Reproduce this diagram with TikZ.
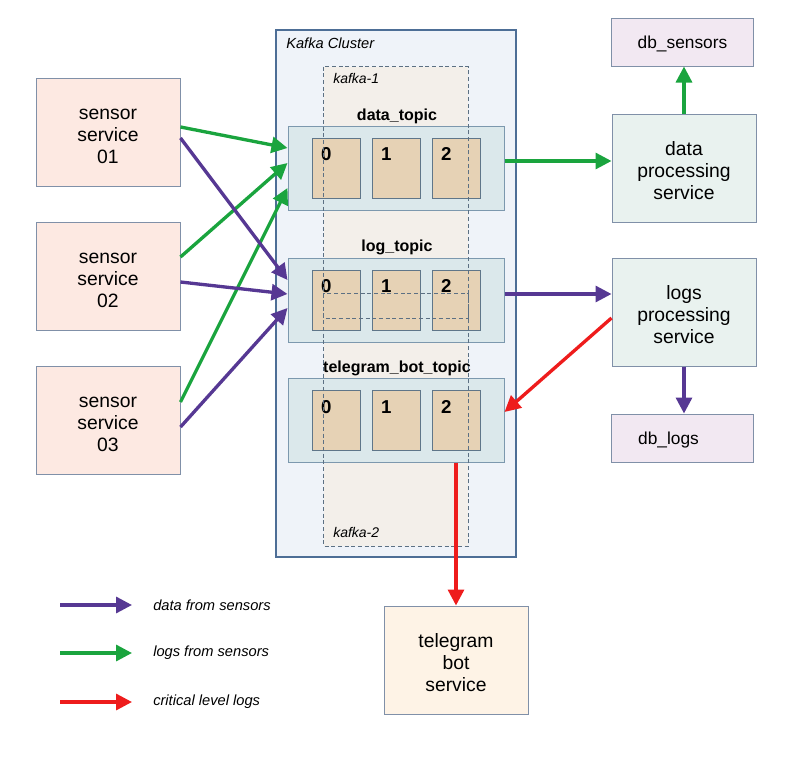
\documentclass[tikz,border=0pt]{standalone}
\usepackage{fontspec}
\setmainfont{Liberation Sans}
\usetikzlibrary{arrows.meta,positioning}

\definecolor{clusterfill}{HTML}{EFF3F9}
\definecolor{clusterline}{HTML}{4D6E96}
\definecolor{brokerfill}{HTML}{F3EFEA}
\definecolor{brokerline}{HTML}{5C7083}
\definecolor{topicfill}{HTML}{DBE8EB}
\definecolor{topicline}{HTML}{7C98AE}
\definecolor{partfill}{HTML}{E6D2B5}
\definecolor{partline}{HTML}{5F7689}
\definecolor{sensorfill}{HTML}{FDE9E2}
\definecolor{procfill}{HTML}{E9F2EF}
\definecolor{dbfill}{HTML}{F2E8F2}
\definecolor{botfill}{HTML}{FEF3E6}
\definecolor{boxline}{HTML}{8090A8}
\definecolor{flowpurple}{HTML}{563893}
\definecolor{flowgreen}{HTML}{1AA43E}
\definecolor{flowred}{HTML}{EE1C1C}

% lowers the text of a box a little
\newcommand{\toppad}{\rule{0pt}{15pt}}
\newcommand{\dbpad}{\rule{0pt}{12.5pt}}

\begin{document}
\begin{tikzpicture}
[
	               x = 0.75pt,
	               y = -0.75pt,
	              >= {Triangle[length=12pt,width=12pt]},
	  service/.style = { draw=boxline, line width=0.75pt, minimum width=108pt, minimum height=81pt,
	                     align=center, font=\fontsize{14.5}{16.5}\selectfont },
	   sensor/.style = { service, fill=sensorfill },
	     proc/.style = { service, fill=procfill },
	      bot/.style = { service, fill=botfill },
	       db/.style = { draw=boxline, line width=0.75pt, fill=dbfill, minimum width=107pt,
	                     minimum height=36pt, font=\fontsize{13}{15}\selectfont },
	  cluster/.style = { draw=clusterline, line width=1.5pt, fill=clusterfill,
	                     minimum width=180pt, minimum height=395pt },
	   broker/.style = { fill=brokerfill, minimum width=108pt, minimum height=189pt },
	brokerline/.style = { draw=brokerline, line width=0.6pt, dash pattern=on 3pt off 2pt },
	    topic/.style = { draw=topicline, line width=0.75pt, fill=topicfill,
	                     minimum width=162pt, minimum height=63pt },
	     part/.style = { draw=partline, line width=0.75pt, fill=partfill,
	                     minimum width=36pt, minimum height=45pt, inner sep=0pt },
	    digit/.style = { anchor=north west, inner sep=0pt, xshift=7pt, yshift=-7.5pt,
	                     font=\bfseries\fontsize{14}{16}\selectfont },
	toplabel/.style = { font=\bfseries\fontsize{12}{14}\selectfont, inner sep=0pt },
	  caption/.style = { anchor=west, inner sep=0pt, font=\itshape\fontsize{10.5}{12}\selectfont },
	legendtext/.style = { anchor=west, inner sep=0pt, font=\itshape\fontsize{11}{13}\selectfont },
	     flow/.style = { line width=2.5pt, -> },
	 dataflow/.style = { flow, draw=flowpurple },
	  logflow/.style = { flow, draw=flowgreen },
	 critflow/.style = { flow, draw=flowred }
]
	\useasboundingbox (0,0) rectangle (794,760);

	% kafka cluster and brokers
	\node (kc) at (396,293.5) [cluster] {};
	\node (kct) at (286,43) [caption, font=\itshape\fontsize{11}{13}\selectfont] {Kafka Cluster};
	\node (k1) at (396,192.5) [broker, minimum height=188.25pt] {};
	\node (k2) at (396,420)   [broker] {};

	% topics
	\node (dt)  at (396,168) [topic] {};
	\node (dtl) at (397,116) [toplabel] {data\_topic};
	\node (lt)  at (396,300) [topic] {};
	\node (ltl) at (397,247) [toplabel] {log\_topic};
	\node (tt)  at (396,420) [topic] {};
	\node (ttl) at (397,368) [toplabel] {telegram\_bot\_topic};

	% partitions
	\node (dt0) at (336,168) [part] {};
	\node (dt1) at (396,168) [part] {};
	\node (dt2) at (456,168) [part] {};
	\node at (dt0.north west) [digit] {0};
	\node at (dt1.north west) [digit] {1};
	\node at (dt2.north west) [digit] {2};

	\node (lt0) at (336,300) [part] {};
	\node (lt1) at (396,300) [part] {};
	\node (lt2) at (456,300) [part] {};
	\node at (lt0.north west) [digit] {0};
	\node at (lt1.north west) [digit] {1};
	\node at (lt2.north west) [digit] {2};

	\node (tt0) at (336,420.5) [part] {};
	\node (tt1) at (396,420.5) [part] {};
	\node (tt2) at (456,420.5) [part] {};
	\node at (tt0.north west) [digit] {0};
	\node at (tt1.north west) [digit] {1};
	\node at (tt2.north west) [digit] {2};

	\draw [brokerline] (k1.north west) rectangle (k1.south east);
	\draw [brokerline] (k2.north west) rectangle (k2.south east);
	\node (k1t) at (333,78)  [caption] {kafka-1};
	\node (k2t) at (333,532) [caption] {kafka-2};

	% services
	\node (s1) at (108,132) [sensor] {\toppad sensor\\service\\01};
	\node (s2) at (108,276) [sensor] {\toppad sensor\\service\\02};
	\node (s3) at (108,420) [sensor] {\toppad sensor\\service\\03};

	\node (dbs) at (682.5,42)  [db] {\dbpad db\_sensors};
	\node (dp)  at (684,168)   [proc] {\toppad data\\processing\\service};
	\node (lp)  at (684,312)   [proc] {\toppad logs\\processing\\service};
	\node (dbl) at (682.5,438) [db] {\dbpad db\_logs\hspace*{21pt}};
	\node (tb)  at (456,660)   [bot] {\toppad telegram\\bot\\service};

	% sensors to topics
	\draw [logflow]  ([yshift=3.75pt]s1.east)  -- ([yshift=15pt]dt.west);
	\draw [logflow]  ([yshift=14.25pt]s2.east) -- ([yshift=3.75pt]dt.west);
	\draw [logflow]  ([yshift=13.5pt]s3.east)  -- ([yshift=-15pt]dt.west);
	\draw [dataflow] ([yshift=-4.5pt]s1.east)  -- ([yshift=15pt]lt.west);
	\draw [dataflow] ([yshift=-4.5pt]s2.east)  -- ([yshift=4.5pt]lt.west);
	\draw [dataflow] ([yshift=-5.25pt]s3.east) -- ([yshift=-6pt]lt.west);

	% topics to consumers
	\draw [logflow]  ([yshift=5.25pt]dt.east) -- ([yshift=5.25pt]dp.west);
	\draw [logflow]  (dp.north) -- (dp.north |- dbs.south);
	\draw [dataflow] ([yshift=4.5pt]lt.east) -- ([yshift=13.5pt]lp.west);
	\draw [dataflow] (lp.south) -- (lp.south |- dbl.north);
	\draw [critflow] ([yshift=-4.5pt]lp.west) -- ([yshift=6pt]tt.east);
	\draw [critflow] ([xshift=45pt]tt.south) -- (tb.north);

	% legend
	\coordinate (la1) at (60,605);  \coordinate (lb1) at (132,605);
	\coordinate (la2) at (60,653);  \coordinate (lb2) at (132,653);
	\coordinate (la3) at (60,702);  \coordinate (lb3) at (132,702);
	\draw [dataflow] (la1) -- (lb1);
	\draw [logflow]  (la2) -- (lb2);
	\draw [critflow] (la3) -- (lb3);
	\node (lt1t) at (153,605) [legendtext] {data from sensors};
	\node (lt2t) at (153,653) [legendtext] {logs from sensors};
	\node (lt3t) at (153,702) [legendtext] {critical level logs};

\end{tikzpicture}
\end{document}
